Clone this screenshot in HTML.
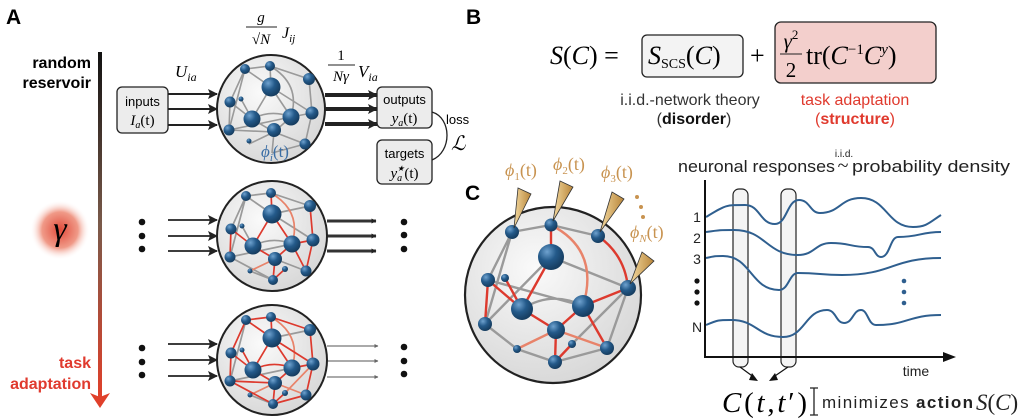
<!DOCTYPE html>
<html><head><meta charset="utf-8"><style>
html,body{margin:0;padding:0;background:#fff;}
svg{display:block;}
.s{font-family:"Liberation Sans",sans-serif;}
.m{font-family:"Liberation Serif",serif;font-style:italic;}
.r{font-family:"Liberation Serif",serif;}
</style></head><body>
<svg width="1024" height="419" viewBox="0 0 1024 419" xmlns="http://www.w3.org/2000/svg">
<defs>
<linearGradient id="bar" x1="0" y1="0" x2="0" y2="1"><stop offset="0" stop-color="#111"/><stop offset="0.5" stop-color="#7a5a4a"/><stop offset="1" stop-color="#e0402a"/></linearGradient>
<radialGradient id="glow"><stop offset="0" stop-color="#e04a3a"/><stop offset="0.6" stop-color="#f09a88"/><stop offset="1" stop-color="#fff" stop-opacity="0"/></radialGradient>
<radialGradient id="ball" cx="0.35" cy="0.3" r="0.7"><stop offset="0" stop-color="#6fa2cf"/><stop offset="0.5" stop-color="#245a8a"/><stop offset="1" stop-color="#163d60"/></radialGradient>
<radialGradient id="sph" cx="0.4" cy="0.35" r="0.75"><stop offset="0" stop-color="#fafafa"/><stop offset="1" stop-color="#d4d4d4"/></radialGradient>
<linearGradient id="probe" x1="0" y1="0" x2="1" y2="0"><stop offset="0" stop-color="#f3d9a0"/><stop offset="1" stop-color="#b9863a"/></linearGradient>
<marker id="ah" viewBox="0 0 10 10" refX="9" refY="5" markerWidth="5" markerHeight="5" orient="auto" markerUnits="userSpaceOnUse"><path d="M0,0 L10,5 L0,10 z" fill="#222"/></marker>
<marker id="ah2" viewBox="0 0 10 10" refX="9" refY="5" markerWidth="10" markerHeight="10" orient="auto" markerUnits="userSpaceOnUse"><path d="M0,0 L10,5 L0,10 L2,5 z" fill="#222"/></marker>
<marker id="ah3" viewBox="0 0 10 10" refX="9" refY="5" markerWidth="4" markerHeight="4" orient="auto" markerUnits="userSpaceOnUse"><path d="M0,0 L10,5 L0,10 z" fill="#666"/></marker>
<g id="nodes">
<circle cx="-26" cy="-40" r="5" fill="url(#ball)"/><circle cx="-1" cy="-43" r="5" fill="url(#ball)"/>
<circle cx="0" cy="-22" r="9.5" fill="url(#ball)"/><circle cx="38" cy="-30" r="6" fill="url(#ball)"/>
<circle cx="-41" cy="-7" r="5.5" fill="url(#ball)"/><circle cx="-30" cy="-10" r="2.5" fill="url(#ball)"/>
<circle cx="-19" cy="10" r="8.5" fill="url(#ball)"/><circle cx="20" cy="8" r="8.5" fill="url(#ball)"/>
<circle cx="41" cy="4" r="6.5" fill="url(#ball)"/><circle cx="-42" cy="21" r="5.5" fill="url(#ball)"/>
<circle cx="3" cy="23" r="7" fill="url(#ball)"/><circle cx="-22" cy="35" r="2.5" fill="url(#ball)"/>
<circle cx="13" cy="33" r="3" fill="url(#ball)"/><circle cx="34" cy="35" r="5.5" fill="url(#ball)"/>
<circle cx="1" cy="44" r="5" fill="url(#ball)"/>
</g>
</defs>

<text x="6" y="24" class="s" font-size="21" font-weight="bold">A</text>
<text x="466" y="24" class="s" font-size="21" font-weight="bold">B</text>
<text x="465" y="200" class="s" font-size="21" font-weight="bold">C</text>

<rect x="98" y="52" width="4" height="345" fill="url(#bar)"/>
<path d="M90,393 L100,408 L110,393 L100,397 z" fill="#e0402a"/>
<text x="91" y="68" class="s" font-size="16" font-weight="bold" text-anchor="end">random</text>
<text x="91" y="88" class="s" font-size="16" font-weight="bold" text-anchor="end">reservoir</text>
<text x="91" y="368" class="s" font-size="16" font-weight="bold" text-anchor="end" fill="#e03a2e">task</text>
<text x="91" y="389" class="s" font-size="16" font-weight="bold" text-anchor="end" fill="#e03a2e">adaptation</text>
<circle cx="60" cy="230" r="30" fill="url(#glow)"/>
<text x="60" y="240" class="m" font-size="34" text-anchor="middle">γ</text>

<rect x="117" y="87" width="51" height="46" rx="5" fill="#ececec" stroke="#222" stroke-width="1.3"/>
<text x="142.5" y="106" class="s" font-size="13" text-anchor="middle">inputs</text>
<text x="142.5" y="125" class="m" font-size="15" text-anchor="middle">I<tspan font-size="10" dy="3">a</tspan><tspan dy="-3" font-style="normal">(t)</tspan></text>
<g stroke="#222" stroke-width="2" marker-end="url(#ah2)">
<line x1="168" y1="94" x2="217" y2="94"/><line x1="168" y1="109" x2="217" y2="109"/><line x1="168" y1="125" x2="217" y2="125"/>
</g>
<text x="175" y="77" class="m" font-size="17">U<tspan font-size="12" dy="4">ia</tspan></text>
<text x="261" y="22" class="m" font-size="15" text-anchor="middle">g</text>
<line x1="246" y1="27" x2="277" y2="27" stroke="#222" stroke-width="1"/>
<text x="261" y="44" class="r" font-size="15" text-anchor="middle">√<tspan font-style="italic">N</tspan></text>
<text x="282" y="38" class="m" font-size="16">J<tspan font-size="11" dy="4">ij</tspan></text>
<text x="341" y="60" class="r" font-size="15" text-anchor="middle">1</text>
<line x1="328" y1="65" x2="355" y2="65" stroke="#222" stroke-width="1"/>
<text x="341" y="81" class="m" font-size="15" text-anchor="middle">Nγ</text>
<text x="358" y="77" class="m" font-size="17">V<tspan font-size="12" dy="4">ia</tspan></text>
<g stroke="#222" stroke-width="4" marker-end="url(#ah2)">
<line x1="325" y1="95" x2="377" y2="95"/><line x1="325" y1="109" x2="377" y2="109"/><line x1="325" y1="124" x2="377" y2="124"/>
</g>
<rect x="377" y="87" width="55" height="41" rx="5" fill="#ececec" stroke="#222" stroke-width="1.3"/>
<text x="404.5" y="104" class="s" font-size="13" text-anchor="middle">outputs</text>
<text x="404.5" y="123" class="m" font-size="15" text-anchor="middle">y<tspan font-size="10" dy="3">a</tspan><tspan dy="-3" font-style="normal">(t)</tspan></text>
<rect x="377" y="140" width="55" height="44" rx="5" fill="#ececec" stroke="#222" stroke-width="1.3"/>
<text x="404.5" y="158" class="s" font-size="13" text-anchor="middle">targets</text>
<text x="404.5" y="178" class="m" font-size="15" text-anchor="middle">y<tspan font-size="10" dy="3">a</tspan><tspan font-size="8" dx="-5" dy="-10">★</tspan><tspan dy="7" font-style="normal">(t)</tspan></text>
<path d="M432,112 C452,118 452,152 432,160" fill="none" stroke="#222" stroke-width="1.3"/>
<text x="446" y="124" class="s" font-size="13">loss</text>
<text x="451" y="150" class="m" font-size="20">ℒ</text>

<g transform="translate(271,109)">
<circle r="54" fill="url(#sph)" stroke="#222" stroke-width="2"/>
<g fill="none" stroke="#9a9a9a" stroke-width="1.6">
<path d="M-26,-40 L-1,-43 L38,-30"/><path d="M-26,-40 L0,-22 M-26,-40 L-41,-7 M-1,-43 L0,-22"/>
<path d="M-1,-43 Q30,-25 20,8"/><path d="M0,-22 L-19,10 M0,-22 L20,8 M0,-22 L41,4 M38,-30 L41,4"/>
<path d="M-41,-7 L-19,10 M-41,-7 L-42,21 M-30,-10 L-19,10 M-19,10 Q0,0 20,8 M-19,10 L3,23 M20,8 L3,23 M20,8 L41,4 M41,4 L34,35"/>
<path d="M-42,21 L3,23 M-42,21 L20,8 M3,23 L1,44 M-22,35 L3,23 M34,35 L1,44 M-26,-40 L-42,21 M3,23 L34,35"/>
</g>
<g>
<circle cx="-26" cy="-40" r="5" fill="url(#ball)"/><circle cx="-1" cy="-43" r="5" fill="url(#ball)"/>
<circle cx="0" cy="-22" r="9.5" fill="url(#ball)"/><circle cx="38" cy="-30" r="6" fill="url(#ball)"/>
<circle cx="-41" cy="-7" r="5.5" fill="url(#ball)"/><circle cx="-30" cy="-10" r="2.5" fill="url(#ball)"/>
<circle cx="-19" cy="10" r="8.5" fill="url(#ball)"/><circle cx="20" cy="8" r="8.5" fill="url(#ball)"/>
<circle cx="41" cy="4" r="6.5" fill="url(#ball)"/><circle cx="-42" cy="21" r="5.5" fill="url(#ball)"/>
<circle cx="3" cy="21" r="7" fill="url(#ball)"/><circle cx="-22" cy="32" r="2.5" fill="url(#ball)"/>
<circle cx="34" cy="35" r="5.5" fill="url(#ball)"/>
</g>
<text x="4" y="48" class="m" font-size="17" fill="#3b6ea5" text-anchor="middle">ϕ<tspan font-size="11" dy="4">i</tspan><tspan dy="-4" font-style="normal">(t)</tspan></text>
</g>

<g fill="#111"><circle cx="142" cy="222" r="3.3"/><circle cx="142" cy="236" r="3.3"/><circle cx="142" cy="249" r="3.3"/>
<circle cx="404" cy="222" r="3.3"/><circle cx="404" cy="235" r="3.3"/><circle cx="404" cy="249" r="3.3"/>
<circle cx="142" cy="348" r="3.3"/><circle cx="142" cy="362" r="3.3"/><circle cx="142" cy="375" r="3.3"/>
<circle cx="404" cy="347" r="3.3"/><circle cx="404" cy="361" r="3.3"/><circle cx="404" cy="374" r="3.3"/></g>
<g stroke="#222" stroke-width="1.8" marker-end="url(#ah2)">
<line x1="168" y1="220" x2="217" y2="220"/><line x1="168" y1="236" x2="217" y2="236"/><line x1="168" y1="251" x2="217" y2="251"/>
<line x1="168" y1="344" x2="217" y2="344"/><line x1="168" y1="360" x2="217" y2="360"/><line x1="168" y1="376" x2="217" y2="376"/>
</g>
<g stroke="#333" stroke-width="3" marker-end="url(#ah)">
<line x1="327" y1="221" x2="376" y2="221"/><line x1="327" y1="236" x2="376" y2="236"/><line x1="327" y1="251" x2="376" y2="251"/>
</g>
<g stroke="#777" stroke-width="1.2" marker-end="url(#ah3)">
<line x1="327" y1="346" x2="378" y2="346"/><line x1="327" y1="361" x2="378" y2="361"/><line x1="327" y1="377" x2="378" y2="377"/>
</g>

<g transform="translate(272,236)">
<circle r="55" fill="url(#sph)" stroke="#222" stroke-width="2"/>
<g fill="none" stroke-width="1.7">
<path stroke="#9a9a9a" d="M-26,-40 L-1,-43 L38,-30 M-26,-40 L0,-22 M-26,-40 L-41,-7 M0,-22 L41,4 M38,-30 L0,-22 M-19,10 Q0,0 20,8 M-42,21 L20,8 M-22,35 L1,44 M-42,21 L1,44 M-26,-40 L-42,21 M3,23 L34,35 M-30,-10 L-19,10"/>
<path stroke="#e8836a" d="M-1,-43 Q30,-25 20,8 M-22,35 L3,23"/>
<path stroke="#dd3a2e" d="M-1,-43 L0,-22 M0,-22 L-19,10 M0,-22 L20,8 M38,-30 L41,4 M-41,-7 L-19,10 M-41,-7 L-42,21 M-19,10 L3,23 M20,8 L3,23 M20,8 L41,4 M41,4 L34,35 M3,23 L1,44 M13,33 L1,44 M34,35 L20,8"/>
</g>
<use href="#nodes"/>
</g>

<g transform="translate(272,360)">
<circle r="55" fill="url(#sph)" stroke="#222" stroke-width="2"/>
<g fill="none" stroke-width="1.7">
<path stroke="#9a9a9a" d="M38,-30 L0,-22 M-42,21 L20,8 M-22,35 L1,44 M-26,-40 L-42,21"/>
<path stroke="#e8836a" d="M-1,-43 Q30,-25 20,8 M-22,35 L3,23 M41,4 L13,33 M3,23 L34,35"/>
<path stroke="#dd3a2e" d="M-26,-40 L-1,-43 L38,-30 M-26,-40 L0,-22 M-26,-40 L-41,-7 M-1,-43 L0,-22 M0,-22 L-19,10 M0,-22 L20,8 M0,-22 L41,4 M38,-30 L41,4 M-41,-7 L-19,10 M-41,-7 L-42,21 M-30,-10 L-19,10 M-19,10 Q0,0 20,8 M-19,10 L3,23 M20,8 L3,23 M20,8 L41,4 M41,4 L34,35 M3,23 L1,44 M13,33 L1,44 M34,35 L1,44 M-42,21 L1,44 M-42,21 L3,23"/>
</g>
<use href="#nodes"/>
</g>

<text x="550" y="64" class="m" font-size="26">S<tspan font-style="normal">(</tspan>C<tspan font-style="normal">) =</tspan></text>
<rect x="642" y="35" width="101" height="42" rx="5" fill="#f3f3f3" stroke="#222" stroke-width="1.3"/>
<text x="648" y="64" class="m" font-size="26">S<tspan font-size="14" font-style="normal" dy="4">SCS</tspan><tspan font-style="normal" dy="-4">(</tspan>C<tspan font-style="normal">)</tspan></text>
<text x="750" y="64" class="r" font-size="26">+</text>
<rect x="775" y="22" width="161" height="61" rx="6" fill="#f3cfcc" stroke="#222" stroke-width="1.3"/>
<text x="791" y="48" class="m" font-size="21" text-anchor="middle">γ<tspan font-size="13" font-style="normal" dy="-9">2</tspan></text>
<line x1="780" y1="54" x2="802" y2="54" stroke="#222" stroke-width="1"/>
<text x="791" y="77" class="r" font-size="21" text-anchor="middle">2</text>
<text x="806" y="64" class="r" font-size="26">tr(<tspan font-style="italic">C</tspan><tspan font-size="15" dy="-10">−1</tspan><tspan font-style="italic" dy="10">C</tspan><tspan font-size="15" font-style="italic" dy="-10">y</tspan><tspan dy="10">)</tspan></text>
<text x="690" y="105" class="s" font-size="16" text-anchor="middle" fill="#333">i.i.d.-network theory</text>
<text x="694" y="124" class="s" font-size="16" text-anchor="middle" fill="#333">(<tspan font-weight="bold" fill="#111">disorder</tspan>)</text>
<text x="855" y="105" class="s" font-size="16" text-anchor="middle" fill="#e03a2e">task adaptation</text>
<text x="855" y="124" class="s" font-size="16" text-anchor="middle" fill="#e03a2e">(<tspan font-weight="bold">structure</tspan>)</text>

<circle cx="553" cy="295" r="88" fill="url(#sph)" stroke="#222" stroke-width="2.2"/>
<g fill="none" stroke-width="2.4">
<path stroke="#9a9a9a" d="M512,232 L551,225 L598,236 M512,232 L488,280 M512,232 L485,324 M551,257 L628,288 M488,280 L583,306 M522,309 Q552,290 583,306 M485,324 L551,257 M485,324 L517,349 L555,362 L607,348 M628,288 L607,348 M628,288 L572,344"/>
<path stroke="#e8836a" d="M551,225 Q600,250 583,306 M517,349 L556,330 L607,348"/>
<path stroke="#dd3a2e" d="M551,225 L551,257 M551,257 L522,309 M598,236 Q625,255 628,288 M488,280 L485,324 M505,278 L522,309 M522,309 L556,330 M556,330 L583,306 M583,306 L628,288 M583,306 L607,348 M556,330 L555,362 M555,362 L572,344 M488,280 L522,309"/>
</g>
<g>
<circle cx="512" cy="232" r="7" fill="url(#ball)"/><circle cx="551" cy="225" r="6.5" fill="url(#ball)"/>
<circle cx="598" cy="236" r="7" fill="url(#ball)"/><circle cx="551" cy="257" r="13" fill="url(#ball)"/>
<circle cx="488" cy="280" r="7" fill="url(#ball)"/><circle cx="505" cy="278" r="4" fill="url(#ball)"/>
<circle cx="522" cy="309" r="11" fill="url(#ball)"/><circle cx="583" cy="306" r="11" fill="url(#ball)"/>
<circle cx="628" cy="288" r="8" fill="url(#ball)"/><circle cx="485" cy="324" r="7" fill="url(#ball)"/>
<circle cx="556" cy="330" r="9" fill="url(#ball)"/><circle cx="517" cy="349" r="4" fill="url(#ball)"/>
<circle cx="572" cy="344" r="4" fill="url(#ball)"/><circle cx="607" cy="348" r="7" fill="url(#ball)"/>
<circle cx="555" cy="362" r="7" fill="url(#ball)"/>
</g>
<g fill="url(#probe)" stroke="#333" stroke-width="0.8">
<polygon points="514,228 518,188 531,194"/><polygon points="553,221 560,181 573,187"/>
<polygon points="600,232 612,192 624,199"/><polygon points="630,284 642,252 654,261"/>
</g>
<g class="m" font-size="18" fill="#c89350">
<text x="505" y="176">ϕ<tspan font-size="11" font-style="normal" dy="4">1</tspan><tspan dy="-4" font-style="normal">(t)</tspan></text>
<text x="553" y="170">ϕ<tspan font-size="11" font-style="normal" dy="4">2</tspan><tspan dy="-4" font-style="normal">(t)</tspan></text>
<text x="601" y="178">ϕ<tspan font-size="11" font-style="normal" dy="4">3</tspan><tspan dy="-4" font-style="normal">(t)</tspan></text>
<text x="630" y="238">ϕ<tspan font-size="11" dy="4">N</tspan><tspan dy="-4" font-style="normal">(t)</tspan></text>
</g>
<g fill="#c89350"><circle cx="637" cy="197" r="2"/><circle cx="641" cy="207" r="2"/><circle cx="643" cy="217" r="2"/></g>

<text x="678" y="172" class="s" font-size="17" fill="#222" textLength="157" lengthAdjust="spacingAndGlyphs">neuronal responses</text>
<text x="843" y="172" class="r" font-size="20" fill="#222" text-anchor="middle">~</text>
<text x="844" y="157" class="s" font-size="10" fill="#222" text-anchor="middle">i.i.d.</text>
<text x="852" y="172" class="s" font-size="17" fill="#222" textLength="158" lengthAdjust="spacingAndGlyphs">probability density</text>
<rect x="733" y="189" width="15" height="178" rx="6" fill="#f0f0f0" fill-opacity="0.7" stroke="#222" stroke-width="1.2"/>
<rect x="781" y="189" width="15" height="178" rx="6" fill="#f0f0f0" fill-opacity="0.7" stroke="#222" stroke-width="1.2"/>
<g fill="none" stroke="#2f5f8f" stroke-width="2">
<path d="M706,217 C726,205 725,205 745,205 C760,205 760,224 775,224 C787,224 787,200 799,200 C810,200 810,213 820,213 C840,213 840,198 861,198 C887,198 887,227 913,227 C927,227 930,222 941,215"/>
<path d="M706,232 C720,230 720,230 734,230 C766,230 766,255 798,255 C815,255 815,243 831,243 C850,243 850,247 868,247 C875,247 875,257 881,257 C890,257 890,237 898,237 C920,237 920,232 941,232"/>
<path d="M706,258 C715,256 715,256 723,256 C751,256 751,290 779,290 C789,290 789,273 798,273 C820,273 820,275 842,275 C892,275 892,258 941,258"/>
<path d="M706,325 C718,320 718,320 731,320 C757,320 757,337 783,337 C805,337 805,310 827,310 C836,310 836,323 844,323 C853,323 853,310 861,310 C868,310 868,325 876,325 C908,325 908,315 941,315"/>
</g>
<path d="M705,180 L705,357 L945,357" fill="none" stroke="#111" stroke-width="2"/>
<path d="M943,352 L956,357 L943,362 z" fill="#111"/>
<g class="s" font-size="14" fill="#222" text-anchor="middle">
<text x="697" y="222">1</text><text x="697" y="243">2</text><text x="697" y="264">3</text><text x="697" y="332">N</text>
</g>
<g fill="#111"><circle cx="697" cy="281" r="2.6"/><circle cx="697" cy="292" r="2.6"/><circle cx="697" cy="303" r="2.6"/></g>
<g fill="#2f5f8f"><circle cx="904" cy="281" r="2.3"/><circle cx="904" cy="292" r="2.3"/><circle cx="904" cy="303" r="2.3"/></g>
<text x="916" y="376" class="s" font-size="14" fill="#222" text-anchor="middle">time</text>
<g stroke="#111" stroke-width="1.2" fill="none"><path d="M740,367 L755,378"/><path d="M788,367 L772,378"/></g>
<path d="M752,373 L758,381 L749,380 z" fill="#111"/><path d="M775,373 L769,381 L778,380 z" fill="#111"/>
<text x="722" y="412" class="m" font-size="29" textLength="85" lengthAdjust="spacing">C<tspan font-style="normal">(</tspan>t<tspan font-style="normal">,</tspan>t<tspan font-style="normal">′)</tspan></text>
<path d="M810,388 L818,388 M814,388 L814,415 M810,415 L818,415" stroke="#222" stroke-width="1.3"/>
<text x="822" y="408" class="s" font-size="17" fill="#222" textLength="151" lengthAdjust="spacing">minimizes <tspan font-weight="bold">action</tspan></text>
<text x="976" y="410" class="m" font-size="23" fill="#222">S<tspan font-style="normal">(</tspan>C<tspan font-style="normal">)</tspan></text>
</svg>
</body></html>
